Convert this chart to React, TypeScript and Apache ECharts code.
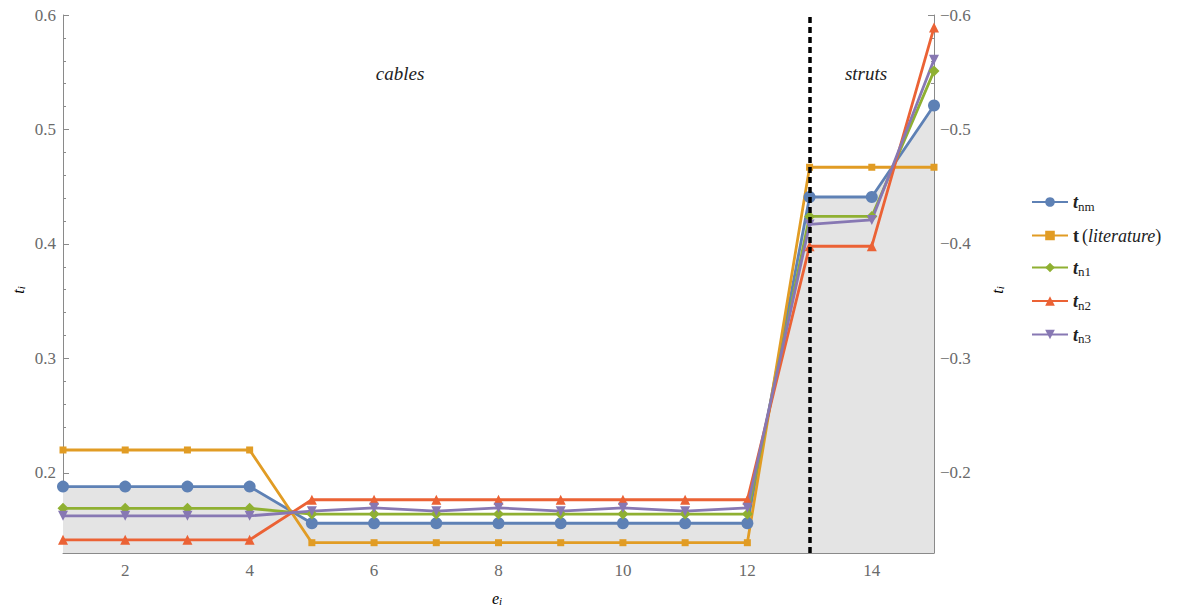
import React, { useEffect, useRef } from "react";
import * as echarts from "echarts";

const elements = [1, 2, 3, 4, 5, 6, 7, 8, 9, 10, 11, 12, 13, 14, 15];
const tNm = [0.188, 0.188, 0.188, 0.188, 0.156, 0.156, 0.156, 0.156, 0.156, 0.156, 0.156, 0.156, 0.441, 0.441, 0.521];
const tLit = [0.22, 0.22, 0.22, 0.22, 0.139, 0.139, 0.139, 0.139, 0.139, 0.139, 0.139, 0.139, 0.467, 0.467, 0.467];
const tN1 = [0.169, 0.169, 0.169, 0.169, 0.164, 0.164, 0.164, 0.164, 0.164, 0.164, 0.164, 0.164, 0.424, 0.424, 0.551];
const tN2 = [0.1415, 0.1415, 0.1415, 0.1415, 0.1765, 0.1765, 0.1765, 0.1765, 0.1765, 0.1765, 0.1765, 0.1765, 0.398, 0.398, 0.589];
const tN3 = [0.1625, 0.1625, 0.1625, 0.1625, 0.1665, 0.1695, 0.1665, 0.1695, 0.1665, 0.1695, 0.1665, 0.1695, 0.417, 0.421, 0.561];

const yMajor = [0.2, 0.3, 0.4, 0.5, 0.6];
const yMinor = [0.14, 0.16, 0.18, 0.22, 0.24, 0.26, 0.28, 0.32, 0.34, 0.36, 0.38, 0.42, 0.44, 0.46, 0.48, 0.52, 0.54, 0.56, 0.58];
const xMajor = [2, 4, 6, 8, 10, 12, 14];
const xMinor = [1, 1.5, 2.5, 3, 3.5, 4.5, 5, 5.5, 6.5, 7, 7.5, 8.5, 9, 9.5, 10.5, 11, 11.5, 12.5, 13, 13.5, 14.5, 15];
const dividerAt = 13;

const Y_MIN = 0.13;
const Y_MAX = 0.6;
const SERIF = "'Liberation Serif', 'Times New Roman', 'DejaVu Serif', serif";
const AXIS_COLOR = "#8a8a8a";
const LABEL_COLOR = "#6a6a6a";

const pairs = (ys: number[]) => elements.map((x, i) => [x, ys[i]]);

const legendRich = {
  bi: { fontFamily: SERIF, fontSize: 18, fontStyle: "italic", fontWeight: "bold", color: "#222" },
  b: { fontFamily: SERIF, fontSize: 18, fontWeight: "bold", color: "#222" },
  sub: { fontFamily: SERIF, fontSize: 13, color: "#222", padding: [8, 0, 0, 0] },
  n: { fontFamily: SERIF, fontSize: 18, color: "#222" },
  it: { fontFamily: SERIF, fontSize: 18, fontStyle: "italic", color: "#222" },
};

const legendText: Record<string, string> = {
  tnm: "{bi|t}{sub|nm}",
  tlit: "{b|t} {n|(}{it|literature}{n|)}",
  tn1: "{bi|t}{sub|n1}",
  tn2: "{bi|t}{sub|n2}",
  tn3: "{bi|t}{sub|n3}",
};

const axisRich = {
  t: { fontFamily: SERIF, fontSize: 16, fontStyle: "italic", color: "#666" },
  s: { fontFamily: SERIF, fontSize: 11, fontStyle: "italic", color: "#666", padding: [6, 0, 0, 0] },
};

export default function App() {
  const ref = useRef<HTMLDivElement>(null);
  useEffect(() => {
    const chart = echarts.init(ref.current!, null, { renderer: "svg" });
    const lineSeries = (
      name: string,
      data: number[],
      color: string,
      symbol: string,
      size: number,
      extra: any = {}
    ) => ({
      name,
      type: "line",
      data: pairs(data),
      xAxisIndex: 0,
      yAxisIndex: 0,
      symbol,
      symbolSize: size,
      itemStyle: { color },
      lineStyle: { color, width: 2.8 },
      ...extra,
    });
    const option: any = {
      animation: false,
      backgroundColor: "#fff",
      textStyle: { fontFamily: SERIF },
      grid: { left: 63, right: 243, top: 15, bottom: 58, containLabel: false },
      legend: {
        orient: "vertical",
        left: 1026,
        top: 188,
        itemWidth: 36,
        itemHeight: 12,
        itemGap: 14,
        formatter: (n: string) => legendText[n],
        textStyle: { fontFamily: SERIF, rich: legendRich },
        data: ["tnm", "tlit", "tn1", "tn2", "tn3"],
      },
      xAxis: [
        {
          type: "value",
          min: 1,
          max: 15,
          position: "bottom",
          axisLine: { show: true, lineStyle: { color: AXIS_COLOR, width: 1 } },
          axisTick: { show: true, inside: true, length: 6, customValues: xMajor, lineStyle: { color: AXIS_COLOR } },
          axisLabel: { customValues: xMajor, color: LABEL_COLOR, fontFamily: SERIF, fontSize: 17, margin: 9 },
          splitLine: { show: false },
        },
        {
          type: "value",
          min: 1,
          max: 15,
          position: "bottom",
          axisLine: { show: false },
          axisTick: { show: true, inside: true, length: 3, customValues: xMinor, lineStyle: { color: AXIS_COLOR } },
          axisLabel: { show: false },
          splitLine: { show: false },
        },
      ],
      yAxis: [
        {
          type: "value",
          min: Y_MIN,
          max: Y_MAX,
          position: "left",
          axisLine: { show: true, lineStyle: { color: AXIS_COLOR, width: 1 } },
          axisTick: { show: true, inside: true, length: 6, customValues: yMajor, lineStyle: { color: AXIS_COLOR } },
          axisLabel: {
            customValues: yMajor,
            color: LABEL_COLOR,
            fontFamily: SERIF,
            fontSize: 17,
            margin: 7,
            formatter: (v: number) => v.toFixed(1),
          },
          splitLine: { show: false },
        },
        {
          type: "value",
          min: Y_MIN,
          max: Y_MAX,
          position: "right",
          axisLine: { show: true, lineStyle: { color: AXIS_COLOR, width: 1 } },
          axisTick: { show: true, inside: true, length: 6, customValues: yMajor, lineStyle: { color: AXIS_COLOR } },
          axisLabel: {
            customValues: yMajor,
            color: LABEL_COLOR,
            fontFamily: SERIF,
            fontSize: 17,
            margin: 6,
            formatter: (v: number) => "\u2212" + v.toFixed(1),
          },
          splitLine: { show: false },
        },
        {
          type: "value",
          min: Y_MIN,
          max: Y_MAX,
          position: "left",
          axisLine: { show: false },
          axisTick: { show: true, inside: true, length: 3, customValues: yMinor, lineStyle: { color: AXIS_COLOR } },
          axisLabel: { show: false },
          splitLine: { show: false },
        },
        {
          type: "value",
          min: Y_MIN,
          max: Y_MAX,
          position: "right",
          axisLine: { show: false },
          axisTick: { show: true, inside: true, length: 3, customValues: yMinor, lineStyle: { color: AXIS_COLOR } },
          axisLabel: { show: false },
          splitLine: { show: false },
        },
      ],
      series: [
        lineSeries("tnm", tNm, "#5E81B5", "circle", 12, {
          areaStyle: { origin: "start", color: "#e4e4e4", opacity: 1 },
          markLine: {
            silent: true,
            symbol: "none",
            label: { show: false },
            lineStyle: { color: "#000", width: 3.5, type: [6, 4] },
            data: [{ xAxis: dividerAt }],
          },
        }),
        lineSeries("tlit", tLit, "#E19C24", "rect", 7),
        lineSeries("tn1", tN1, "#8FB032", "diamond", 11),
        lineSeries("tn2", tN2, "#EB6235", "triangle", 10),
        lineSeries("tn3", tN3, "#8778B3", "triangle", 10, { symbolRotate: 180 }),
      ],
      graphic: [
        {
          type: "text",
          x: 400,
          y: 73,
          style: { text: "cables", fontFamily: SERIF, fontSize: 19, fontStyle: "italic", fill: "#222", textAlign: "center", textVerticalAlign: "middle" },
        },
        {
          type: "text",
          x: 866,
          y: 73,
          style: { text: "struts", fontFamily: SERIF, fontSize: 19, fontStyle: "italic", fill: "#222", textAlign: "center", textVerticalAlign: "middle" },
        },
        {
          type: "text",
          x: 18,
          y: 290,
          rotation: Math.PI / 2,
          style: { text: "{t|t}{s|i}", rich: axisRich, textAlign: "center", textVerticalAlign: "middle" },
        },
        {
          type: "text",
          x: 997,
          y: 290,
          rotation: Math.PI / 2,
          style: { text: "{t|t}{s|i}", rich: axisRich, textAlign: "center", textVerticalAlign: "middle" },
        },
        {
          type: "text",
          x: 497,
          y: 598,
          style: { text: "{t|e}{s|i}", rich: axisRich, textAlign: "center", textVerticalAlign: "middle" },
        },
      ],
    };
    chart.setOption(option);
    return () => chart.dispose();
  }, []);
  return <div ref={ref} style={{ position: "absolute", left: 0, top: 0, width: 1177, height: 611 }} />;
}
